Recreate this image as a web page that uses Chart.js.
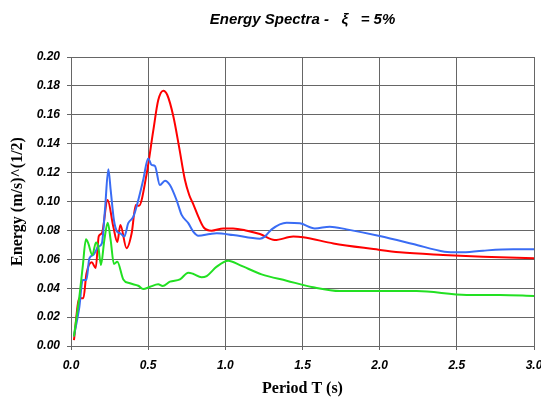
<!DOCTYPE html>
<html>
<head>
<meta charset="utf-8">
<script src="https://cdn.jsdelivr.net/npm/chart.js@4/dist/chart.umd.min.js"></script>
<style>
  body { margin: 0; background: #fff; }
  canvas { display: block; }
</style>
</head>
<body>
<canvas id="myChart" width="541" height="398"></canvas>
<script>
// values
var redT = [0.019, 0.054, 0.08, 0.10, 0.134, 0.16, 0.18, 0.20, 0.237, 0.274, 0.30, 0.32, 0.36, 0.393, 0.42, 0.44, 0.49, 0.533, 0.565, 0.598, 0.624, 0.663, 0.70, 0.738, 0.766, 0.79, 0.825, 0.86, 0.911, 0.987, 1.05, 1.14, 1.224, 1.32, 1.44, 1.505, 1.70, 1.96, 2.13, 2.41, 2.67, 3.0];
var redE = [0.004, 0.033, 0.033, 0.050, 0.058, 0.054, 0.076, 0.078, 0.101, 0.0826, 0.072, 0.0837, 0.0676, 0.078, 0.0976, 0.097, 0.119, 0.149, 0.170, 0.1767, 0.1737, 0.159, 0.138, 0.115, 0.1045, 0.0987, 0.0895, 0.082, 0.0798, 0.0814, 0.0814, 0.0798, 0.0775, 0.0733, 0.0757, 0.0752, 0.071, 0.0671, 0.0648, 0.063, 0.0618, 0.0607];

var blueT = [0.019, 0.054, 0.076, 0.10, 0.119, 0.145, 0.177, 0.20, 0.22, 0.242, 0.257, 0.278, 0.30, 0.32, 0.345, 0.371, 0.404, 0.436, 0.468, 0.50, 0.522, 0.544, 0.576, 0.609, 0.641, 0.684, 0.717, 0.76, 0.792, 0.825, 0.90, 0.944, 1.05, 1.224, 1.256, 1.30, 1.397, 1.483, 1.58, 1.677, 1.786, 2.0, 2.217, 2.42, 2.52, 2.67, 2.865, 3.0];
var blueE = [0.0067, 0.027, 0.0457, 0.0457, 0.0607, 0.063, 0.0687, 0.071, 0.094, 0.1223, 0.108, 0.0872, 0.079, 0.078, 0.0757, 0.085, 0.0895, 0.101, 0.115, 0.1298, 0.1253, 0.1246, 0.1114, 0.1144, 0.1114, 0.101, 0.0907, 0.085, 0.0791, 0.0763, 0.0775, 0.078, 0.0768, 0.0743, 0.0757, 0.0807, 0.0853, 0.0849, 0.0814, 0.0826, 0.0807, 0.0761, 0.0706, 0.0653, 0.0648, 0.066, 0.0669, 0.0669];

var greenT = [0.019, 0.054, 0.076, 0.097, 0.112, 0.138, 0.162, 0.177, 0.194, 0.216, 0.238, 0.257, 0.278, 0.30, 0.339, 0.382, 0.436, 0.468, 0.512, 0.565, 0.594, 0.641, 0.706, 0.76, 0.79, 0.846, 0.879, 0.944, 1.019, 1.094, 1.235, 1.397, 1.57, 1.742, 1.958, 2.239, 2.563, 2.78, 3.0];
var greenE = [0.0067, 0.034, 0.0549, 0.0738, 0.071, 0.063, 0.0717, 0.0687, 0.056, 0.0733, 0.0853, 0.0733, 0.0567, 0.0583, 0.0461, 0.0434, 0.0417, 0.0394, 0.041, 0.0427, 0.0415, 0.0445, 0.0461, 0.0507, 0.050, 0.0475, 0.0484, 0.0549, 0.059, 0.056, 0.0496, 0.0452, 0.0406, 0.038, 0.038, 0.038, 0.0353, 0.0353, 0.0346];

function makePoints(xs, ys) {
    var pts = [];
    for (let i = 0; i < xs.length; i++) {
        pts.push({ x: xs[i], y: ys[i] });
    }
    return pts;
}

function lineSet(xs, ys, color) {
    return {
        data: makePoints(xs, ys),
        borderColor: color,
        borderWidth: 2,
        pointRadius: 0,
        showLine: true,
        fill: false,
        cubicInterpolationMode: 'monotone'
    };
}

var gridColor = '#666666';
var tickFont = { family: 'Liberation Sans, Arial, sans-serif', size: 12, style: 'italic', weight: 'bold' };
var titleFont = { family: 'Liberation Serif, Times New Roman, serif', size: 16, weight: 'bold' };

var ctx = document.getElementById("myChart");
new Chart(ctx, {
    type: 'scatter',
    data: {
        datasets: [
            lineSet(greenT, greenE, '#22e022'),
            lineSet(blueT, blueE, '#3a6cf4'),
            lineSet(redT, redE, '#ff0000')
        ]
    },
    options: {
        responsive: false,
        animation: false,
        layout: { padding: { left: 0, right: 7, top: 0, bottom: 0 } },
        plugins: {
            legend: { display: false },
            tooltip: { enabled: false },
            title: {
                display: true,
                fullSize: false,
                text: 'Energy Spectra -   \u03BE   = 5%',
                color: '#000',
                font: { family: 'Liberation Sans, Arial, sans-serif', size: 15, style: 'italic', weight: 'bold' },
                padding: { top: 11, bottom: 28 }
            }
        },
        scales: {
            x: {
                type: 'linear',
                min: 0,
                max: 3.0,
                ticks: {
                    stepSize: 0.5,
                    color: '#000',
                    font: tickFont,
                    padding: 8,
                    maxRotation: 0,
                    callback: function (v) { return v.toFixed(1); }
                },
                grid: { color: gridColor, tickLength: 4 },
                border: { color: gridColor },
                title: { display: true, text: 'Period T (s)', color: '#000', font: titleFont, padding: { top: 0, bottom: 0 } },
                afterFit: function (s) {
                    s.height = 52;
                    s.paddingLeft = 0;
                    s.paddingRight = 0;
                }
            },
            y: {
                min: 0,
                max: 0.2,
                ticks: {
                    stepSize: 0.02,
                    color: '#000',
                    font: tickFont,
                    padding: 7,
                    callback: function (v) { return v.toFixed(2); }
                },
                grid: { color: gridColor, tickLength: 4 },
                border: { color: gridColor },
                title: { display: true, text: 'Energy (m/s)^(1/2)', color: '#000', font: titleFont, padding: { top: 8, bottom: 0 } },
                afterFit: function (s) {
                    s.width = 71;
                    s.paddingTop = 0;
                    s.paddingBottom = 0;
                }
            }
        }
    }
});
</script>
</body>
</html>
